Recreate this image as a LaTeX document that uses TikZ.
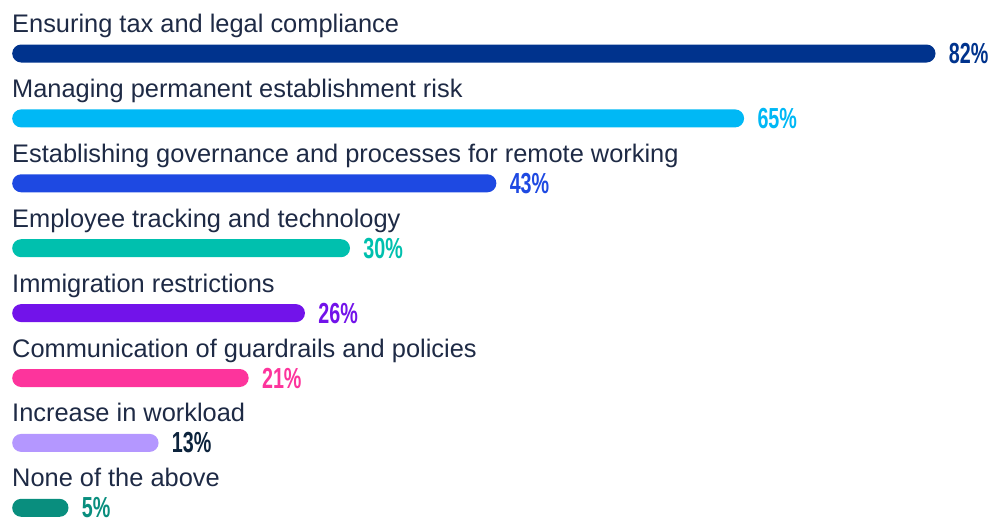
\documentclass[tikz,border=0pt]{standalone}
\usepackage{fontspec}
\setmainfont{Liberation Sans}
\newfontfamily\pctfont{Liberation Sans}
\definecolor{txt}{HTML}{1E2A45}
\definecolor{cA}{HTML}{00338D}
\definecolor{cB}{HTML}{00B8F5}
\definecolor{cC}{HTML}{1E49E2}
\definecolor{cD}{HTML}{00C0AE}
\definecolor{cE}{HTML}{7213EA}
\definecolor{cF}{HTML}{FD349C}
\definecolor{cG}{HTML}{B497FF}
\definecolor{cGt}{HTML}{0C233C}
\definecolor{cH}{HTML}{098E7E}
\tikzset{
  lbl/.style={anchor=base west, inner sep=0pt, text=txt, font=\fontsize{25.4}{30}\selectfont},
  barbox/.style={anchor=west, inner sep=0pt, minimum height=18pt, rounded corners=9pt, fill=#1},
  pct/.style={anchor=west, inner sep=0pt, text=#1, font=\pctfont\bfseries\fontsize{29}{31}\selectfont},
}
\newcommand{\pctxt}[1]{\scalebox{0.68}[1]{#1}}
\begin{document}
\begin{tikzpicture}[x=1pt,y=-1pt]
\useasboundingbox (0,0) rectangle (989,523);
\foreach \i/\txtl/\p/\c/\tc in {
  0/Ensuring tax and legal compliance/82/cA/cA,
  1/Managing permanent establishment risk/65/cB/cB,
  2/Establishing governance and processes for remote working/43/cC/cC,
  3/Employee tracking and technology/30/cD/cD,
  4/Immigration restrictions/26/cE/cE,
  5/Communication of guardrails and policies/21/cF/cF,
  6/Increase in workload/13/cG/cGt,
  7/None of the above/5/cH/cH}{
  \pgfmathsetmacro{\yc}{53.5+64.9*\i}
  \pgfmathsetmacro{\w}{11.26*\p}
  \node[lbl] (l\i) at (12,\yc-21) {\txtl};
  \node[barbox=\c, minimum width=\w pt] (b\i) at (12,\yc) {};
  \node[pct=\tc, xshift=13pt] (p\i) at (b\i.east) {\pctxt{\p\%}};
}
\end{tikzpicture}
\end{document}
